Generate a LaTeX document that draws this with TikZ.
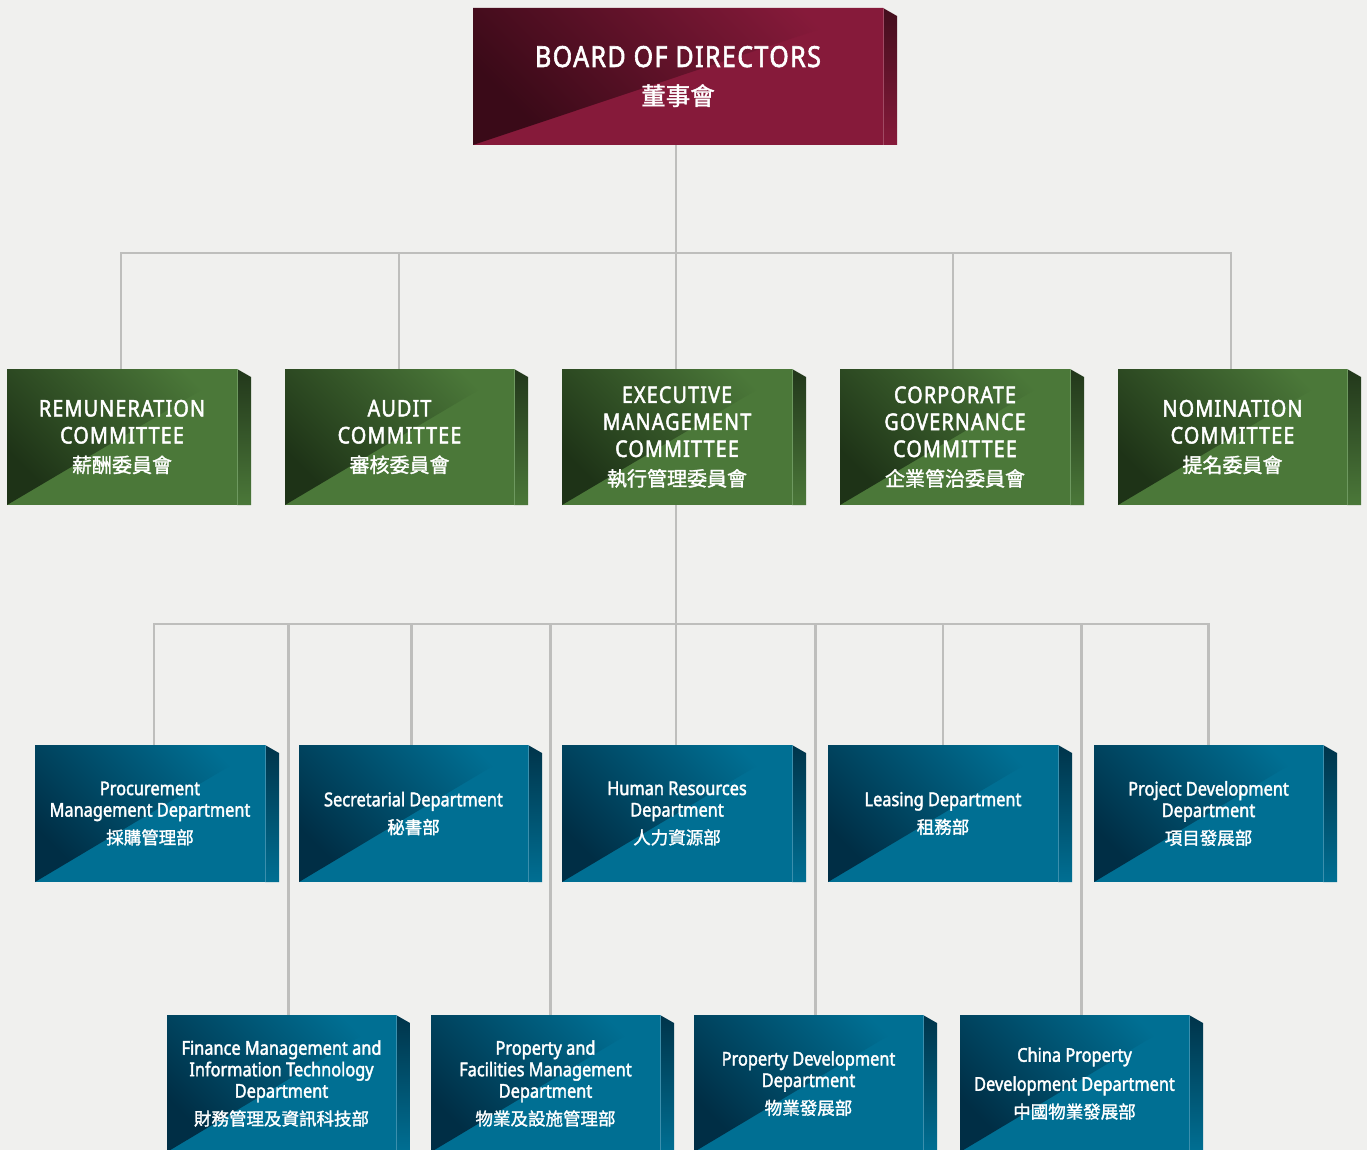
\documentclass[tikz,border=0pt]{standalone}
\usepackage{fontspec}
\setmainfont{Noto Sans}[FakeStretch=0.86,FakeBold=2]
\newfontfamily\capsfont{Noto Sans}[FakeStretch=0.86,LetterSpace=5,FakeBold=2]
\newfontfamily\cjk{Noto Sans CJK TC}[FakeBold=1.5]
\definecolor{bg}{HTML}{F0F0EE}
\definecolor{conn}{HTML}{BEBEBC}
\definecolor{marbase}{HTML}{861A3A}
\definecolor{mardark}{HTML}{3A0A18}
\definecolor{marside}{HTML}{430E1D}
\definecolor{maredge}{HTML}{A04A63}
\definecolor{grnbase}{HTML}{4B7839}
\definecolor{grndark}{HTML}{1E3317}
\definecolor{grnside}{HTML}{22371B}
\definecolor{grnedge}{HTML}{6E9960}
\definecolor{blubase}{HTML}{006F93}
\definecolor{bludark}{HTML}{002E45}
\definecolor{bluside}{HTML}{00344A}
\definecolor{bluedge}{HTML}{3B8FAD}
\newcommand\cjkA{\cjk\fontsize{20}{26}\selectfont}
\newcommand\cjkB{\cjk\fontsize{17.5}{24}\selectfont}
% name, x0, y0, x1, y1, colour prefix, text, text style
\newcommand\orgbox[8]{%
  \fill[#6base] (#2,#3) rectangle (#4,#5);
  \begin{scope}
    \clip (#2,#5) -- (#4,#3) -- (#2,#3) -- cycle;
    \shade[left color=#6dark, middle color=#6base!86!#6dark, right color=#6base, shading angle=135] (#2,#3) rectangle (#4,#5);
  \end{scope}
  \shade[top color=#6side, bottom color=#6base] (#4,#3) -- ({#4+14},{#3+8}) -- ({#4+14},#5) -- (#4,#5) -- cycle;
  \draw[#6edge, line width=0.8pt] (#4,#3) -- (#4,#5);
  \node[#8, minimum width={(#4-#2)*1pt}, minimum height={(#5-#3)*1pt}] (#1) at ({(#2+#4)/2},{(#3+#5)/2}) {#7};
}
\tikzset{
  boxtext/.style={inner sep=0pt, text=white, align=center},
  brdtext/.style={boxtext, font=\capsfont\fontsize{29}{34}\selectfont},
  comtext/.style={boxtext, font=\capsfont\fontsize{23}{27}\selectfont},
  deptext/.style={boxtext, font=\fontsize{19}{21.5}\selectfont},
  link/.style={draw=conn, line width=2.5pt}
}
\begin{document}
\begin{tikzpicture}[x=1pt,y=-1pt]
\clip (0,0) rectangle (1367,1150);
\fill[bg] (0,0) rectangle (1367,1150);
\useasboundingbox (0,0) rectangle (1367,1150);

\orgbox{board}{473}{8}{883}{145}{mar}{BOARD OF DIRECTORS\\[4pt]{\cjk\fontsize{24.5}{30}\selectfont 董事會}}{brdtext}

\orgbox{rem}{7}{369}{237}{505}{grn}{REMUNERATION\\ COMMITTEE\\[2pt] {\cjkA 薪酬委員會}}{comtext}
\orgbox{aud}{285}{369}{514}{505}{grn}{AUDIT\\ COMMITTEE\\[2pt] {\cjkA 審核委員會}}{comtext}
\orgbox{exe}{562}{369}{792}{505}{grn}{EXECUTIVE\\ MANAGEMENT\\ COMMITTEE\\[2pt] {\cjkA 執行管理委員會}}{comtext}
\orgbox{cgc}{840}{369}{1070}{505}{grn}{CORPORATE\\ GOVERNANCE\\ COMMITTEE\\[2pt] {\cjkA 企業管治委員會}}{comtext}
\orgbox{nom}{1118}{369}{1347}{505}{grn}{NOMINATION\\ COMMITTEE\\[2pt] {\cjkA 提名委員會}}{comtext}

\orgbox{pro}{35}{745}{265}{882}{blu}{Procurement\\ Management Department\\[6pt] {\cjkB 採購管理部}}{deptext}
\orgbox{sec}{299}{745}{528}{882}{blu}{Secretarial Department\\[6pt] {\cjkB 秘書部}}{deptext}
\orgbox{hr}{562}{745}{792}{882}{blu}{Human Resources\\ Department\\[6pt] {\cjkB 人力資源部}}{deptext}
\orgbox{lea}{828}{745}{1058}{882}{blu}{Leasing Department\\[6pt] {\cjkB 租務部}}{deptext}
\orgbox{pdd}{1094}{745}{1323}{882}{blu}{Project Development\\ Department\\[6pt] {\cjkB 項目發展部}}{deptext}

\orgbox{fin}{167}{1015}{396}{1152}{blu}{Finance Management and\\ Information Technology\\ Department\\[6pt] {\cjkB 財務管理及資訊科技部}}{deptext}
\orgbox{pfm}{431}{1015}{660}{1152}{blu}{Property and\\ Facilities Management\\ Department\\[6pt] {\cjkB 物業及設施管理部}}{deptext}
\orgbox{prd}{694}{1015}{923}{1152}{blu}{Property Development\\ Department\\[6pt] {\cjkB 物業發展部}}{deptext}
\orgbox{cpd}{960}{1015}{1189}{1152}{blu}{China Property\\[7.5pt] Development Department\\[6pt] {\cjkB 中國物業發展部}}{deptext}

\coordinate (bus1) at (676,253);
\draw[link] ([xshift=-2pt]board.south) |- (bus1);
\foreach \c/\s in {rem/-1,aud/-0.5,exe/-1,cgc/-2,nom/-1.5} \draw[link] ([xshift=\s pt]\c.north) |- (bus1);

\coordinate (bus2) at (676,624);
\draw[link] ([xshift=-1pt]exe.south) |- (bus2);
\foreach \c/\s in {pro/4,sec/-2,hr/-1,lea/0,pdd/0,fin/7,pfm/5,prd/7,cpd/7} \draw[link] ([xshift=\s pt]\c.north) |- (bus2);
\end{tikzpicture}
\end{document}
